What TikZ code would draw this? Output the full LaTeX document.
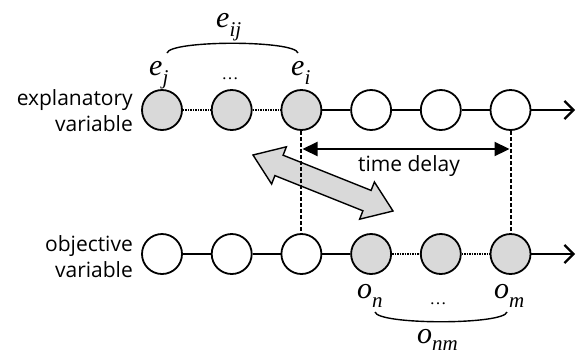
\documentclass[tikz,border=0pt]{standalone}
\usepackage{fontspec}
\usetikzlibrary{arrows.meta}
\newfontfamily\sansf{Open Sans}
\newfontfamily\serf{Liberation Serif}
\newcommand\mylab[3][-9pt]{{\serf\fontsize{30}{30}\selectfont\itshape #2\raisebox{#1}{\fontsize{21}{21}\selectfont #3}}}
\definecolor{cgray}{HTML}{D9D9D9}
\begin{document}
\begin{tikzpicture}[x=1pt,y=-1pt,
  circ/.style={circle,draw,line width=1.8pt,minimum size=40pt,inner sep=0pt},
  gcirc/.style={circ,fill=cgray},
  wcirc/.style={circ,fill=white},
  thickln/.style={line width=2.2pt},
  thinln/.style={line width=1.4pt},
  dotln/.style={line width=2.6pt,dash pattern=on 1.5pt off 1pt},
  dashln/.style={line width=2pt,dash pattern=on 4pt off 2pt},
  txt/.style={font=\sansf\fontsize{21}{26}\selectfont,inner sep=0pt},
  lab/.style={inner sep=0pt,anchor=base west},
  dots/.style={inner sep=0pt,anchor=base,font=\serf\fontsize{17}{17}\selectfont},
  endarrow/.style={line width=2.2pt,-{Straight Barb[length=9pt,width=18pt,line width=2.2pt]}}
]
\useasboundingbox (0,0) rectangle (577,354);

% fat double arrow (drawn first, beneath the dashed line)
\filldraw[fill=cgray,draw=black,line width=1.4pt,line join=miter]
  (253,155) -- (286.4,146.8) -- (283.1,155.2) -- (371.1,190.4) -- (374.4,182.0)
  -- (393,211) -- (359.6,219.2) -- (362.9,210.8) -- (274.9,175.6) -- (271.6,184.0) -- cycle;

% top row
\node[gcirc] (e1) at (162,110) {};
\node[gcirc] (e2) at (231.7,110) {};
\node[gcirc] (e3) at (301.4,110) {};
\node[wcirc] (e4) at (371.1,110) {};
\node[wcirc] (e5) at (440.8,110) {};
\node[wcirc] (e6) at (510.5,110) {};
\coordinate (eend) at (575,110);

% bottom row
\node[wcirc] (o1) at (162,254) {};
\node[wcirc] (o2) at (231.7,254) {};
\node[wcirc] (o3) at (301.4,254) {};
\node[gcirc] (o4) at (371.1,254) {};
\node[gcirc] (o5) at (440.8,254) {};
\node[gcirc] (o6) at (510.5,254) {};
\coordinate (oend) at (575,254);

% connectors
\draw[dotln] (e1) -- (e2);
\draw[dotln] (e2) -- (e3);
\draw[thickln] (e3) -- (e4);
\draw[thickln] (e4) -- (e5);
\draw[thickln] (e5) -- (e6);
\draw[endarrow] (e6) -- (eend);

\draw[thinln] (o1) -- (o2);
\draw[thinln] (o2) -- (o3);
\draw[thinln] (o3) -- (o4);
\draw[dotln] (o4) -- (o5);
\draw[dotln] (o5) -- (o6);
\draw[endarrow] (o6) -- (oend);

% dashed verticals
\draw[dashln] (e3.south) -- (o3.north);
\draw[dashln] (e6.south) -- (o6.north);

% time delay arrow
\coordinate (tdl) at (302.5,149);
\coordinate (tdr) at (509.5,149);
\draw[line width=2.2pt,{Triangle[length=15pt,width=14pt]}-{Triangle[length=15pt,width=14pt]}] (tdl) -- (tdr);
\node[txt,anchor=base] (td) at (409,171) {time delay};

% side labels
\node[txt,align=right,anchor=east] (lex) at (133,111) {explanatory\\variable};
\node[txt,align=right,anchor=east] (lob) at (133,257) {objective\\variable};

% math labels
\node[lab] (lej) at (149,75) {\mylab{e}{j}};
\node[lab] (lei) at (291,75) {\mylab{e}{i}};
\node[dots] (ld1) at (230,79) {…};
\node[lab] (leij) at (216,27) {\mylab{e}{ij}};
\coordinate (ba1) at (167,53);
\coordinate (ba2) at (298,53);
\draw[line width=1.4pt] (ba1) .. controls (170,40) and (295,40) .. (ba2);

\node[lab] (lon) at (357,298) {\mylab{o}{n}};
\node[lab] (lom) at (494,298) {\mylab{o}{m}};
\node[dots] (ld2) at (438,304) {…};
\node[lab] (lonm) at (417,343) {\mylab[-7pt]{o}{nm}};
\coordinate (bb1) at (375,312);
\coordinate (bb2) at (507,312);
\draw[line width=1.4pt] (bb1) .. controls (378,325) and (504,325) .. (bb2);
\end{tikzpicture}
\end{document}
